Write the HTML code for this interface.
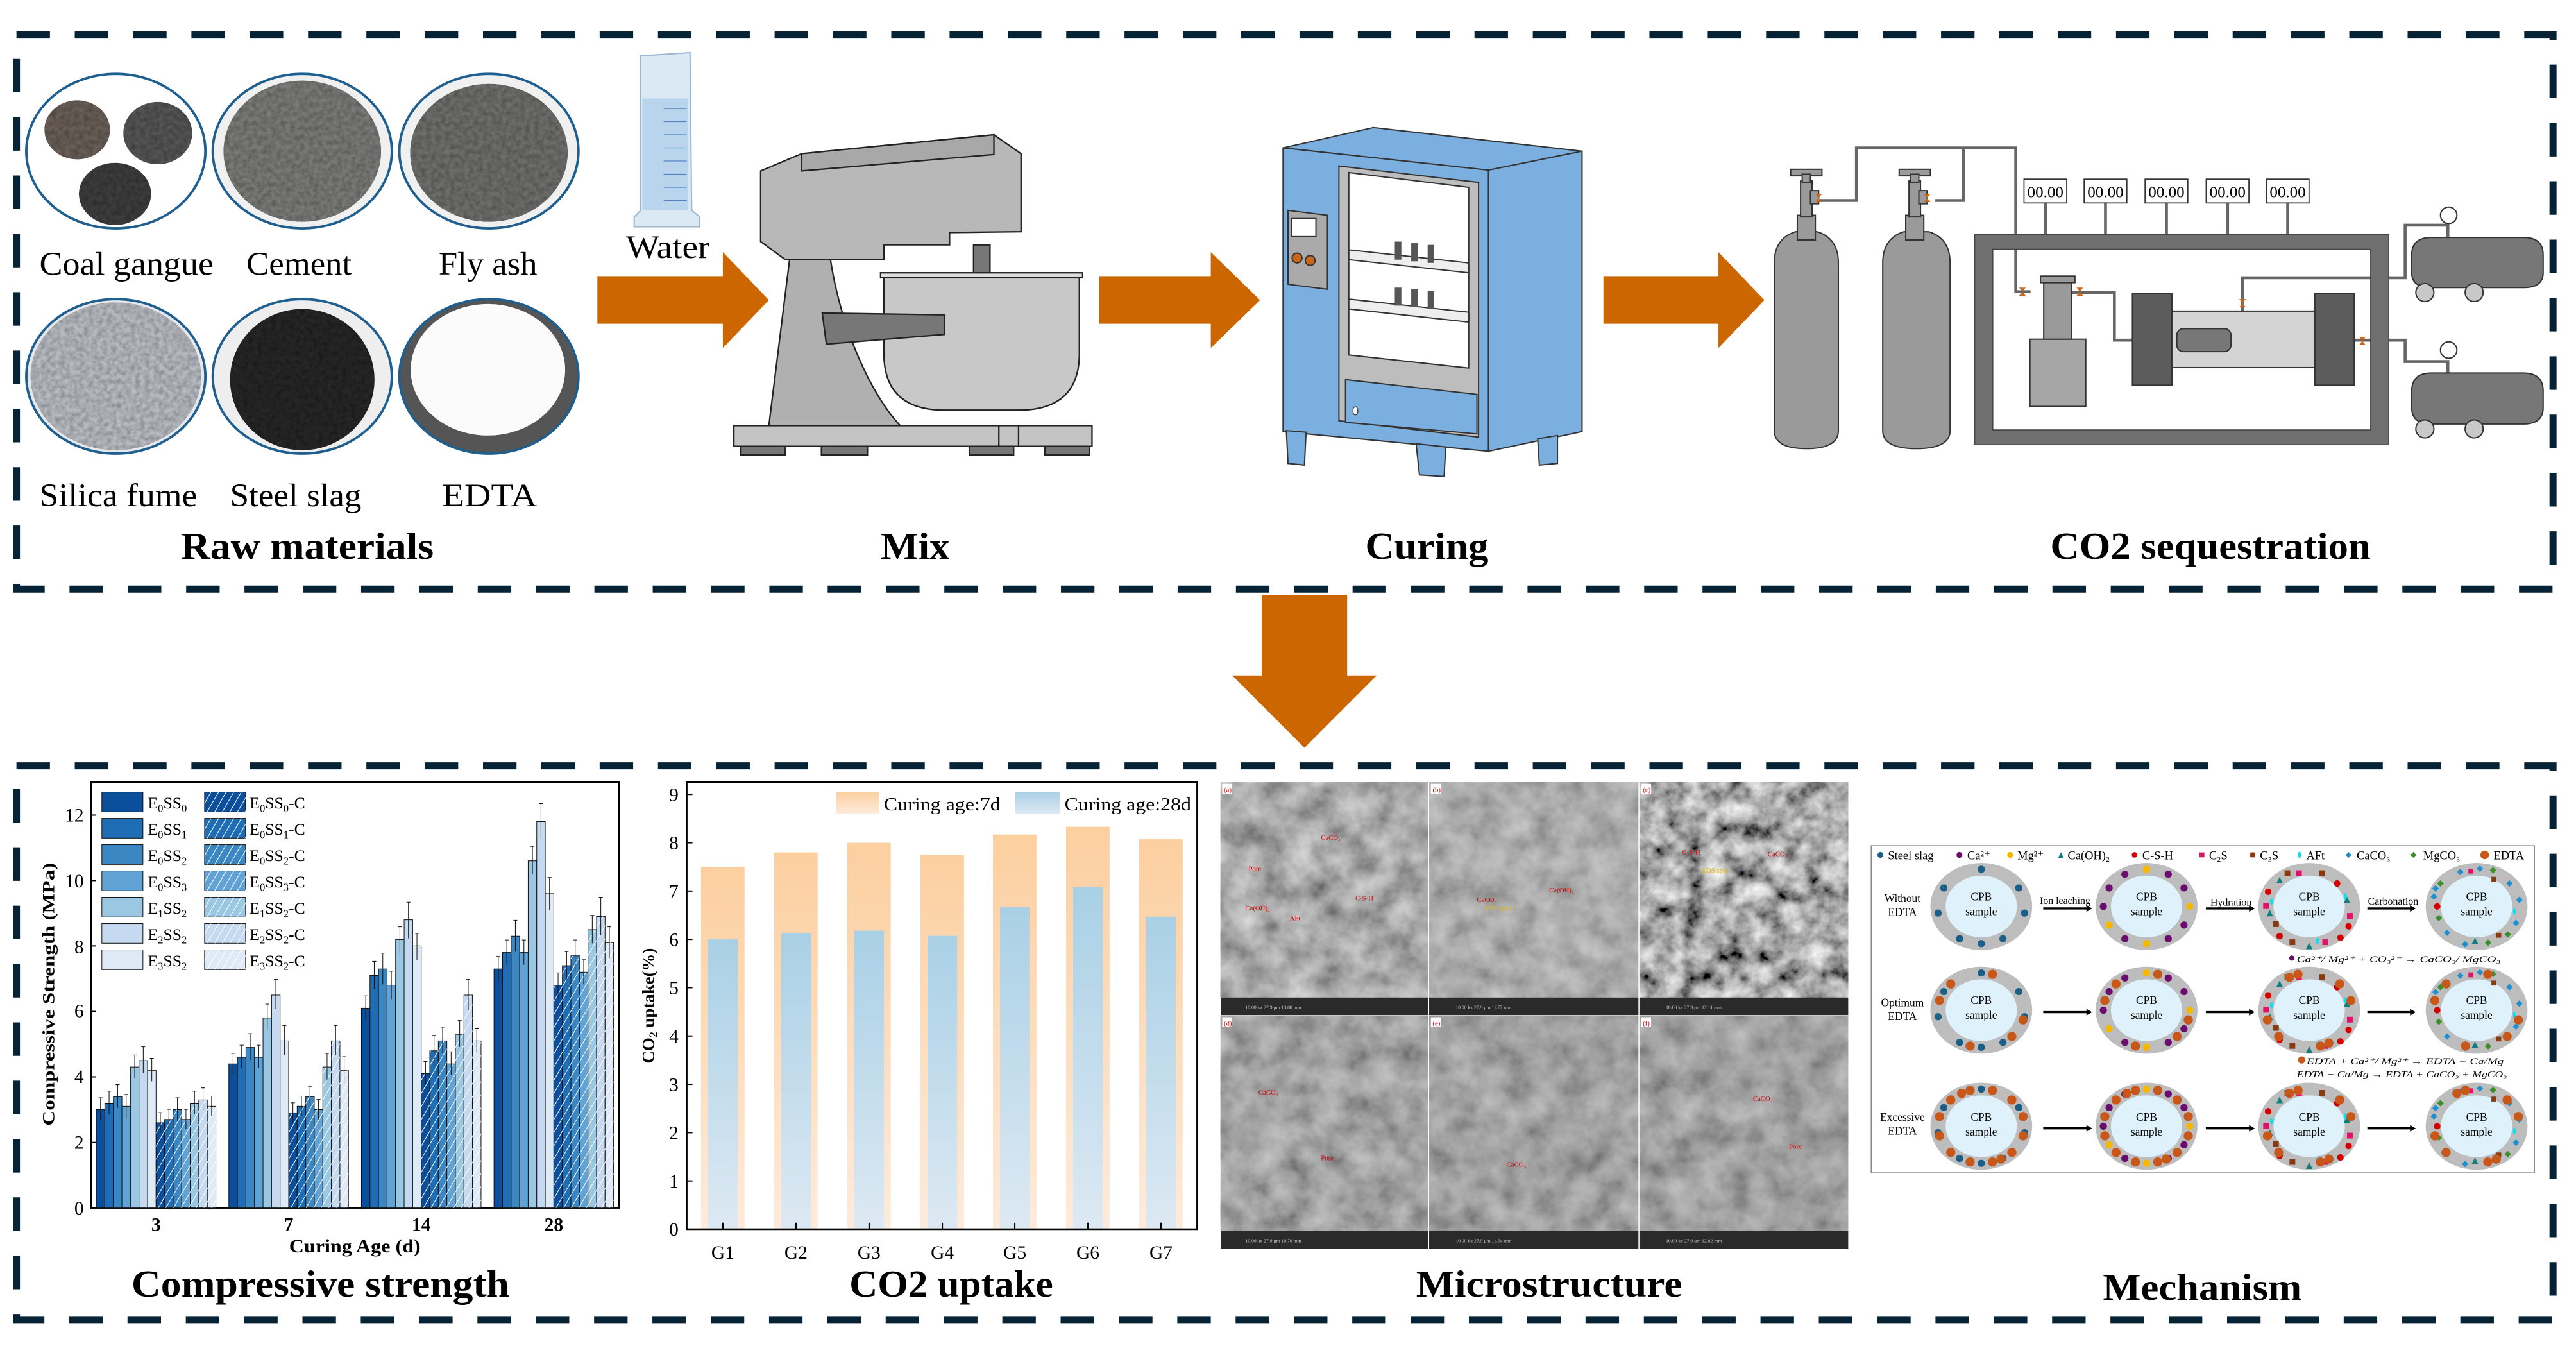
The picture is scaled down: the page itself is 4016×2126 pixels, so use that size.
<!DOCTYPE html>
<html><head><meta charset="utf-8"><style>html,body{margin:0;padding:0;background:#fff}svg{display:block}text{font-family:"Liberation Serif",serif}</style></head>
<body>
<svg width="4016" height="2126" viewBox="0 0 1568 830" preserveAspectRatio="none" xmlns="http://www.w3.org/2000/svg">
<defs>
<filter id="tex" x="0" y="0" width="1" height="1"><feTurbulence type="fractalNoise" baseFrequency="0.35" numOctaves="2" seed="5" result="n"/><feColorMatrix in="n" type="matrix" values="0.8 0 0 0 0.4 0.8 0 0 0 0.4 0.8 0 0 0 0.4 0 0 0 0 1" result="g"/><feBlend in="SourceGraphic" in2="g" mode="multiply" result="b"/><feComposite in="b" in2="SourceAlpha" operator="in"/></filter>
<filter id="sem" x="0" y="0" width="1" height="1"><feTurbulence type="fractalNoise" baseFrequency="0.06" numOctaves="4" seed="7"/><feColorMatrix type="matrix" values="1.0 0 0 0 0.0 1.0 0 0 0 0.0 1.0 0 0 0 0.0 0 0 0 0 1"/></filter>
<filter id="sem2" x="0" y="0" width="1" height="1"><feTurbulence type="fractalNoise" baseFrequency="0.08" numOctaves="4" seed="11"/><feColorMatrix type="matrix" values="1.3 0 0 0 -0.25 1.3 0 0 0 -0.25 1.3 0 0 0 -0.25 0 0 0 0 1"/></filter>
<linearGradient id="og" x1="0" y1="0" x2="0" y2="1"><stop offset="0" stop-color="#fccf9f"/><stop offset="1" stop-color="#fdebdc"/></linearGradient>
<linearGradient id="bg" x1="0" y1="0" x2="0" y2="1"><stop offset="0" stop-color="#a9d0e6"/><stop offset="1" stop-color="#dde9f3"/></linearGradient>
<pattern id="hat" width="4" height="4" patternUnits="userSpaceOnUse" patternTransform="rotate(30)"><rect width="4" height="4" fill="none"/><line x1="0" y1="0" x2="0" y2="4" stroke="#fff" stroke-width="0.8"/></pattern>
<g id="d1"><g fill="#1b5e86"><circle cx="0" cy="-22.6" r="2.2"/><circle cx="22.8" cy="-11.3" r="2.2"/><circle cx="26.3" cy="4" r="2.2"/><circle cx="13.2" cy="19.6" r="2.2"/><circle cx="0" cy="22.6" r="2.2"/><circle cx="-13.2" cy="19.6" r="2.2"/><circle cx="-26.3" cy="4" r="2.2"/><circle cx="-22.8" cy="-11.3" r="2.2"/></g></g>
<g id="d2"><circle cx="0" cy="-22.6" r="2.2" fill="#f5b800"/><circle cx="13.2" cy="-19.6" r="2.2" fill="#6a0d6f"/><circle cx="22.8" cy="-11.3" r="2.2" fill="#6a0d6f"/><circle cx="26.3" cy="0" r="2.2" fill="#f5b800"/><circle cx="22.8" cy="11.3" r="2.2" fill="#6a0d6f"/><circle cx="13.2" cy="19.6" r="2.2" fill="#6a0d6f"/><circle cx="0" cy="22.6" r="2.2" fill="#f5b800"/><circle cx="-13.2" cy="19.6" r="2.2" fill="#6a0d6f"/><circle cx="-22.8" cy="11.3" r="2.2" fill="#f5b800"/><circle cx="-26.3" cy="0" r="2.2" fill="#6a0d6f"/><circle cx="-22.8" cy="-11.3" r="2.2" fill="#6a0d6f"/><circle cx="-13.2" cy="-19.6" r="2.2" fill="#6a0d6f"/></g>
<g id="d3"><rect x="-15" y="-22" width="3.5" height="3.5" fill="#8b3a0e"/><rect x="-8" y="-22" width="3.5" height="3.5" fill="#e0116a"/><rect x="6" y="-22" width="3.5" height="3.5" fill="#8b3a0e"/><path d="M-20 -14l2 -4 2 4z" fill="#0f7f7f"/><circle cx="17" cy="-14" r="2" fill="#d40000"/><path d="M21 -2l2 -4 2 4z" fill="#0f7f7f"/><rect x="23" y="4" width="3.5" height="3.5" fill="#e0116a"/><circle cx="24" cy="12" r="2" fill="#d40000"/><ellipse cx="22" cy="-6" rx="0.9" ry="2" fill="#00e5ff"/><circle cx="19" cy="19" r="2" fill="#d40000"/><rect x="8" y="20" width="3.5" height="3.5" fill="#e0116a"/><path d="M-2 26l2 -4 2 4z" fill="#0f7f7f"/><rect x="-12" y="20" width="3.5" height="3.5" fill="#8b3a0e"/><circle cx="-18" cy="18" r="2" fill="#d40000"/><rect x="-22" y="9" width="3.5" height="3.5" fill="#8b3a0e"/><path d="M-26 6l2 -4 2 4z" fill="#0f7f7f"/><rect x="-28" y="-2" width="3.5" height="3.5" fill="#e0116a"/><circle cx="-25" cy="-9" r="2" fill="#d40000"/><ellipse cx="-23" cy="-3" rx="0.9" ry="2" fill="#00e5ff"/><ellipse cx="5" cy="21" rx="0.9" ry="2" fill="#00e5ff"/></g>
<g id="d4"><path d="M-12 -21l2 -2 2 2 -2 2z" fill="#1e90d0"/><rect x="-5" y="-23" width="3" height="3" fill="#e0116a"/><path d="M0 -23l2 -2 2 2 -2 2z" fill="#1e90d0"/><path d="M8 -22l2 -2 2 2 -2 2z" fill="#3a8f2a"/><rect x="9" y="-18" width="3" height="3" fill="#8b3a0e"/><path d="M18 -14l2 -2 2 2 -2 2z" fill="#1e90d0"/><path d="M24 -4l2 -2 2 2 -2 2z" fill="#1e90d0"/><ellipse cx="23" cy="3" rx="0.9" ry="2" fill="#00e5ff"/><path d="M22 10l2 -2 2 2 -2 2z" fill="#1e90d0"/><path d="M17 17l2 -2 2 2 -2 2z" fill="#3a8f2a"/><rect x="12" y="16" width="3" height="3" fill="#8b3a0e"/><path d="M5 22l2 -2 2 2 -2 2z" fill="#3a8f2a"/><path d="M-3 23l2 -4 2 4z" fill="#0f7f7f"/><path d="M-9 23l2 -2 2 2 -2 2z" fill="#1e90d0"/><path d="M-20 16l2 -2 2 2 -2 2z" fill="#1e90d0"/><path d="M-25 7l2 -2 2 2 -2 2z" fill="#3a8f2a"/><circle cx="-24" cy="0" r="2" fill="#d40000"/><path d="M-28 -6l2 -2 2 2 -2 2z" fill="#1e90d0"/><path d="M-24 -14l2 -2 2 2 -2 2z" fill="#3a8f2a"/><path d="M-27 -11l2 -2 2 2 -2 2z" fill="#1e90d0"/></g>
<g id="ed"><g fill="#c8581a"><circle cx="25.4" cy="5.9" r="2.8"/><circle cx="18.6" cy="16" r="2.8"/><circle cx="-6.8" cy="21.8" r="2.8"/><circle cx="-25.4" cy="-5.9" r="2.8"/><circle cx="-18.6" cy="-16" r="2.8"/><circle cx="6.8" cy="-21.8" r="2.8"/></g></g>
<g id="ed2"><g fill="#c8581a"><circle cx="25.4" cy="-5.9" r="2.8"/><circle cx="6.8" cy="21.8" r="2.8"/><circle cx="-18.6" cy="16" r="2.8"/><circle cx="-25.4" cy="5.9" r="2.8"/><circle cx="-6.8" cy="-21.8" r="2.8"/><circle cx="18.6" cy="-16" r="2.8"/><circle cx="-12" cy="-20" r="2.8"/><circle cx="12" cy="20" r="2.8"/></g></g>
</defs>

<g fill="none" stroke="#062335" stroke-width="4.3" stroke-dasharray="20.4 15.1">
<rect x="10" y="21.3" width="1544" height="337.2"/>
<rect x="10" y="466" width="1544" height="337"/>
</g>

<!-- Raw materials -->
<g stroke="#1f5f8f" stroke-width="1.5">
<ellipse cx="70.5" cy="92" rx="54.5" ry="47" fill="#fff"/>
<ellipse cx="184" cy="92" rx="54.5" ry="47" fill="#f0f0f0"/>
<ellipse cx="297.6" cy="92" rx="54.5" ry="47" fill="#f0f0f0"/>
<ellipse cx="70.5" cy="229" rx="54.5" ry="47" fill="#e6e8ec"/>
<ellipse cx="184" cy="229" rx="54.5" ry="47" fill="#eeeeee"/>
<ellipse cx="297.6" cy="229" rx="54.5" ry="47" fill="#555"/>
</g>
<g filter="url(#tex)">
<ellipse cx="47" cy="79" rx="20" ry="18" fill="#6a5f58"/>
<ellipse cx="96" cy="81" rx="21" ry="19" fill="#555"/>
<ellipse cx="70" cy="118" rx="22" ry="19" fill="#3d3d3d"/>
<ellipse cx="184" cy="92" rx="48" ry="43" fill="#7a7a78"/>
<ellipse cx="297.6" cy="93" rx="48" ry="42" fill="#6e6e6c"/>
<ellipse cx="70.5" cy="229" rx="52" ry="45" fill="#b8bcc2"/>
<ellipse cx="184" cy="231" rx="44" ry="43" fill="#262626"/>
</g>
<ellipse cx="297" cy="225" rx="47" ry="40" fill="#fbfbfb"/>
<g font-size="20" fill="#000">
<text x="24" y="167" textLength="106" lengthAdjust="spacingAndGlyphs">Coal gangue</text>
<text x="150" y="167" textLength="64" lengthAdjust="spacingAndGlyphs">Cement</text>
<text x="267" y="167" textLength="60" lengthAdjust="spacingAndGlyphs">Fly ash</text>
<text x="24" y="308" textLength="96" lengthAdjust="spacingAndGlyphs">Silica fume</text>
<text x="140" y="308" textLength="80" lengthAdjust="spacingAndGlyphs">Steel slag</text>
<text x="269" y="308" textLength="58" lengthAdjust="spacingAndGlyphs">EDTA</text>
<text x="381" y="157" textLength="51" lengthAdjust="spacingAndGlyphs">Water</text>
</g>
<g font-size="23" font-weight="bold" fill="#000">
<text x="110" y="340" textLength="154" lengthAdjust="spacingAndGlyphs">Raw materials</text>
<text x="536" y="340" textLength="42" lengthAdjust="spacingAndGlyphs">Mix</text>
<text x="831" y="340" textLength="75" lengthAdjust="spacingAndGlyphs">Curing</text>
<text x="1248" y="340" textLength="195" lengthAdjust="spacingAndGlyphs">CO2 sequestration</text>
</g>

<path d="M390 34 L420 32 L421 128 L426 132 L426 138 L386 138 L386 132 L390 128 Z" fill="#dbe9f5" stroke="#9bb7cf" stroke-width="0.8"/>
<rect x="391" y="60" width="28" height="68" fill="#b9d5ee"/>
<g stroke="#4f86c0" stroke-width="0.5"><line x1="404" y1="66" x2="418" y2="66"/><line x1="404" y1="74" x2="418" y2="74"/><line x1="404" y1="82" x2="418" y2="82"/><line x1="404" y1="90" x2="418" y2="90"/><line x1="404" y1="98" x2="418" y2="98"/><line x1="404" y1="106" x2="418" y2="106"/><line x1="404" y1="114" x2="418" y2="114"/><line x1="404" y1="122" x2="418" y2="122"/></g>

<g fill="#cc6600">
<path d="M363.6 168 H440 V153.4 L468 182.6 L440 211.8 V197 H363.6 Z"/>
<path d="M669 168 H737 V153.4 L767 182.6 L737 211.8 V197 H669 Z"/>
<path d="M976 168 H1046 V153.4 L1074 182.6 L1046 211.8 V197 H976 Z"/>
<path d="M768 362 H820 V411 H838 L794 455 L750 411 H768 Z"/>
</g>

<g stroke="#222" stroke-width="0.9">
<path d="M480.6 158 L468 259 L548 259 C530 240 512 200 505.5 158 Z" fill="#b0b0b0"/>
<path d="M463 104 L488 93.5 L605 82 L621.5 93.5 L621.5 141 L578 141.5 L578 149 L538 149 L538 158 L478 158 L463 147 Z" fill="#b8b8b8"/>
<path d="M488 93.5 L605 82 L605 94 L488 104 Z" fill="#a8a8a8"/>
<rect x="592.6" y="149" width="10" height="18" fill="#777"/>
<path d="M538 166.8 H657 V215 Q657 249.6 620 249.6 H575 Q538 249.6 538 215 Z" fill="#c8c8c8"/>
<rect x="536" y="166" width="123" height="3" fill="#ddd"/>
<path d="M500.5 190.5 L575 191.6 L575 203.5 L503 209.4 Z" fill="#777"/>
<rect x="446.7" y="259" width="218" height="12.6" fill="#c4c4c4"/>
<line x1="608" y1="259" x2="608" y2="271.6"/><line x1="620" y1="259" x2="620" y2="271.6"/>
<rect x="451" y="271.6" width="27" height="5.2" fill="#777"/><rect x="500" y="271.6" width="28" height="5.2" fill="#777"/><rect x="590" y="271.6" width="27" height="5.2" fill="#777"/><rect x="636" y="271.6" width="27" height="5.2" fill="#777"/>
</g>

<g stroke="#333" stroke-width="0.8">
<path d="M781 90 L836 77.6 L963 92 L906 103.5 Z" fill="#7aafe0"/>
<path d="M906 103.5 L963 92 L963 262.6 L906 274.6 Z" fill="#7aafe0"/>
<path d="M781 90 L906 103.5 L906 274.6 L781 262.6 Z" fill="#7aafe0"/>
<path d="M815 101 L900 111 L900 266 L815 256 Z" fill="#bdbdbd"/>
<path d="M821 105 L894 114 L894 224 L821 216 Z" fill="#fff"/>
<path d="M819 231 L899 240 L899 264 L819 257 Z" fill="#7aafe0"/>
<path d="M821 152 L894 160 L894 166 L821 158 Z" fill="#eee"/>
<path d="M821 182 L894 190 L894 196 L821 188 Z" fill="#eee"/>
<path d="M784 128 L808 131 L808 176 L784 173 Z" fill="#aaa"/>
<rect x="786" y="133" width="15" height="11" fill="#fff"/>
<circle cx="789.5" cy="157" r="3" fill="#c8661a"/><circle cx="797.5" cy="158.5" r="3" fill="#c8661a"/>
<path d="M783 262 L795 263 L794 283 L784 282 Z" fill="#7aafe0"/><path d="M862 270 L880 272 L879 290 L864 289 Z" fill="#7aafe0"/><path d="M936 267 L948 265 L948 282 L937 283 Z" fill="#7aafe0"/>
</g>
<g fill="#555"><rect x="849" y="147" width="4" height="11"/><rect x="859" y="148" width="4" height="11"/><rect x="869" y="149" width="4" height="11"/><rect x="849" y="175" width="4" height="11"/><rect x="859" y="176" width="4" height="11"/><rect x="869" y="177" width="4" height="11"/></g>
<ellipse cx="825" cy="250" rx="1.5" ry="2.5" fill="#fff" stroke="#333" stroke-width="0.5"/>

<g fill="none" stroke="#666" stroke-width="1.8">
<path d="M1108 122 H1130 V90 H1227 V177.5 H1236"/>
<path d="M1178 122 H1195 V90"/>
<path d="M1260 178 H1287 V207 H1298"/>
<path d="M1365 189 V169 H1464 V137 H1490 V145"/>
<path d="M1433 207 H1464 V220 H1490 V228"/>
<path d="M1245 123.5 V143 M1281.6 123.5 V143 M1318.7 123.5 V143 M1355.9 123.5 V143 M1392.5 123.5 V143"/>
</g>
<path d="M1202 142.7 H1454 V270.6 H1202 Z M1213 151.7 V261.6 H1443 V151.7 Z" fill="#6f6f6f" fill-rule="evenodd" stroke="#444" stroke-width="0.6"/>
<g fill="#fff" stroke="#333" stroke-width="0.7"><rect x="1232" y="109" width="26" height="14.5"/><rect x="1268.6" y="109" width="26" height="14.5"/><rect x="1305.7" y="109" width="26" height="14.5"/><rect x="1342.9" y="109" width="26" height="14.5"/><rect x="1379.5" y="109" width="26" height="14.5"/></g>
<g font-size="9.5" fill="#000"><text x="1234" y="120" textLength="22" lengthAdjust="spacingAndGlyphs">00.00</text><text x="1270.6" y="120" textLength="22" lengthAdjust="spacingAndGlyphs">00.00</text><text x="1307.7" y="120" textLength="22" lengthAdjust="spacingAndGlyphs">00.00</text><text x="1344.9" y="120" textLength="22" lengthAdjust="spacingAndGlyphs">00.00</text><text x="1381.5" y="120" textLength="22" lengthAdjust="spacingAndGlyphs">00.00</text></g>
<g stroke="#333" stroke-width="0.8" fill="#9a9a9a">
<path d="M1080 160 Q1080 145 1093 141 L1106 141 Q1119 145 1119 160 V262 Q1119 273 1099.5 273 Q1080 273 1080 262 Z"/>
<path d="M1146 160 Q1146 145 1159 141 L1174 141 Q1187 145 1187 160 V262 Q1187 273 1166.5 273 Q1146 273 1146 262 Z"/>
<rect x="1094" y="131" width="11" height="15"/><rect x="1160" y="131" width="11" height="15"/>
<rect x="1096" y="110" width="7" height="22"/><rect x="1162" y="110" width="7" height="22"/>
<rect x="1090" y="103" width="19" height="4"/><rect x="1156" y="103" width="19" height="4"/>
<rect x="1097" y="106" width="5" height="5"/><rect x="1163" y="106" width="5" height="5"/>
<rect x="1102" y="116" width="5" height="8"/><rect x="1168" y="116" width="5" height="8"/>
<rect x="1298" y="178.7" width="24" height="55.7" fill="#5c5c5c"/><rect x="1409" y="178.7" width="24" height="55.7" fill="#5c5c5c"/>
<rect x="1322" y="189.3" width="87" height="34.4" fill="#d4d4d4"/>
<rect x="1325" y="200" width="33" height="14" rx="4" fill="#777"/>
<rect x="1235.6" y="206.4" width="34" height="40.9" fill="#a6a6a6"/>
<rect x="1244" y="172" width="17" height="34.4"/>
<rect x="1242" y="168" width="21" height="4"/>
<path d="M1468 155 Q1468 144.5 1480 144.5 H1536 Q1548 144.5 1548 155 V166 Q1548 175 1536 175 H1480 Q1468 175 1468 166 Z" fill="#777"/>
<path d="M1468 238 Q1468 227 1480 227 H1536 Q1548 227 1548 238 V248 Q1548 258 1536 258 H1480 Q1468 258 1468 248 Z" fill="#777"/>
<circle cx="1476" cy="178" r="5.5" fill="#c8c8c8"/><circle cx="1506" cy="178" r="5.5" fill="#c8c8c8"/>
<circle cx="1476" cy="261" r="5.5" fill="#c8c8c8"/><circle cx="1506" cy="261" r="5.5" fill="#c8c8c8"/>
<circle cx="1490.5" cy="131" r="5" fill="#fff"/><circle cx="1490.5" cy="213" r="5" fill="#fff"/>
</g>
<g fill="#c8661a"><path d="M1105 118l4 0 -4 5 4 0z"/><path d="M1171 118l4 0 -4 5 4 0z"/><path d="M1229 175l4 0 -4 5 4 0z"/><path d="M1264 175l4 0 -4 5 4 0z"/><path d="M1363 182l4 0 -4 5 4 0z"/><path d="M1436 205l4 0 -4 5 4 0z"/></g>

<!-- Compressive strength chart -->
<rect x="55.4" y="476" width="321.4" height="259" fill="none" stroke="#000" stroke-width="1"/>
<g stroke="#000" stroke-width="0.8"><line x1="55.4" y1="695.2" x2="58.5" y2="695.2"/><line x1="55.4" y1="655.3" x2="58.5" y2="655.3"/><line x1="55.4" y1="615.5" x2="58.5" y2="615.5"/><line x1="55.4" y1="575.6" x2="58.5" y2="575.6"/><line x1="55.4" y1="535.8" x2="58.5" y2="535.8"/><line x1="55.4" y1="496" x2="58.5" y2="496"/></g>
<g font-size="11.5" text-anchor="end"><text x="51" y="739">0</text><text x="51" y="699">2</text><text x="51" y="659">4</text><text x="51" y="619">6</text><text x="51" y="580">8</text><text x="51" y="540">10</text><text x="51" y="500">12</text></g>
<text transform="translate(33,605) rotate(-90)" font-size="10.5" font-weight="bold" text-anchor="middle" textLength="160" lengthAdjust="spacingAndGlyphs">Compressive Strength (MPa)</text>
<g font-size="11.5" font-weight="bold" text-anchor="middle"><text x="95" y="749">3</text><text x="175.7" y="749">7</text><text x="256.4" y="749">14</text><text x="337.1" y="749">28</text></g>
<text x="216" y="762" font-size="11.5" font-weight="bold" text-anchor="middle" textLength="80" lengthAdjust="spacingAndGlyphs">Curing Age (d)</text>

<g stroke="#111" stroke-width="0.4">
<g transform="translate(58.6,0)">
<rect x="0" y="675.2" width="5.2" height="59.8" fill="#0b4f9c"/><rect x="5.2" y="671.3" width="5.2" height="63.7" fill="#1f6db5"/><rect x="10.4" y="667.3" width="5.2" height="67.7" fill="#3a87c4"/><rect x="15.6" y="673.2" width="5.2" height="61.8" fill="#62a3d6"/><rect x="20.8" y="649.3" width="5.2" height="85.7" fill="#9ac8e2"/><rect x="26" y="645.4" width="5.2" height="89.6" fill="#c5daf0"/><rect x="31.2" y="651.3" width="5.2" height="83.7" fill="#dfeaf7"/>
<rect x="36.4" y="683.2" width="5.2" height="51.8" fill="#0b4f9c"/><rect x="41.6" y="681.2" width="5.2" height="53.8" fill="#1f6db5"/><rect x="46.8" y="675.2" width="5.2" height="59.8" fill="#3a87c4"/><rect x="52" y="681.2" width="5.2" height="53.8" fill="#62a3d6"/><rect x="57.2" y="671.3" width="5.2" height="63.7" fill="#9ac8e2"/><rect x="62.4" y="669.3" width="5.2" height="65.7" fill="#c5daf0"/><rect x="67.6" y="673.2" width="5.2" height="61.8" fill="#dfeaf7"/>
<path fill="url(#hat)" stroke="none" d="M36.4 683.2h5.2v51.8h-5.2zM41.6 681.2h5.2v53.8h-5.2zM46.8 675.2h5.2v59.8h-5.2zM52 681.2h5.2v53.8h-5.2zM57.2 671.3h5.2v63.7h-5.2zM62.4 669.3h5.2v65.7h-5.2zM67.6 673.2h5.2v61.8h-5.2z"/>
<path fill="none" d="M2.6 668v14M1.4 668h2.4M7.8 664v14M6.6 664h2.4M13 660v14M11.8 660h2.4M18.2 666v14M17 666h2.4M23.4 642v14M22.2 642h2.4M28.6 637v16M27.4 637h2.4M33.8 644v14M32.6 644h2.4M39 677v12M37.8 677h2.4M44.2 675v12M43 675h2.4M49.4 668v14M48.2 668h2.4M54.6 675v12M53.4 675h2.4M59.8 664v14M58.6 664h2.4M65 662v14M63.8 662h2.4M70.2 667v12M69 667h2.4"/>
</g>
<g transform="translate(139.3,0)">
<rect x="0" y="647.4" width="5.2" height="87.6" fill="#0b4f9c"/><rect x="5.2" y="643.4" width="5.2" height="91.6" fill="#1f6db5"/><rect x="10.4" y="637.4" width="5.2" height="97.6" fill="#3a87c4"/><rect x="15.6" y="643.4" width="5.2" height="91.6" fill="#62a3d6"/><rect x="20.8" y="619.5" width="5.2" height="115.5" fill="#9ac8e2"/><rect x="26" y="605.5" width="5.2" height="129.5" fill="#c5daf0"/><rect x="31.2" y="633.4" width="5.2" height="101.6" fill="#dfeaf7"/>
<rect x="36.4" y="677.2" width="5.2" height="57.8" fill="#0b4f9c"/><rect x="41.6" y="673.2" width="5.2" height="61.8" fill="#1f6db5"/><rect x="46.8" y="667.3" width="5.2" height="67.7" fill="#3a87c4"/><rect x="52" y="675.2" width="5.2" height="59.8" fill="#62a3d6"/><rect x="57.2" y="649.3" width="5.2" height="85.7" fill="#9ac8e2"/><rect x="62.4" y="633.4" width="5.2" height="101.6" fill="#c5daf0"/><rect x="67.6" y="651.3" width="5.2" height="83.7" fill="#dfeaf7"/>
<path fill="url(#hat)" stroke="none" d="M36.4 677.2h5.2v57.8h-5.2zM41.6 673.2h5.2v61.8h-5.2zM46.8 667.3h5.2v67.7h-5.2zM52 675.2h5.2v59.8h-5.2zM57.2 649.3h5.2v85.7h-5.2zM62.4 633.4h5.2v101.6h-5.2zM67.6 651.3h5.2v83.7h-5.2z"/>
<path fill="none" d="M2.6 641v13M1.4 641h2.4M7.8 636v14M6.6 636h2.4M13 629v16M11.8 629h2.4M18.2 636v14M17 636h2.4M23.4 611v16M22.2 611h2.4M28.6 596v18M27.4 596h2.4M33.8 624v18M32.6 624h2.4M39 671v12M37.8 671h2.4M44.2 667v12M43 667h2.4M49.4 661v12M48.2 661h2.4M54.6 669v12M53.4 669h2.4M59.8 641v16M58.6 641h2.4M65 624v18M63.8 624h2.4M70.2 643v16M69 643h2.4"/>
</g>
<g transform="translate(220,0)">
<rect x="0" y="613.5" width="5.2" height="121.5" fill="#0b4f9c"/><rect x="5.2" y="593.6" width="5.2" height="141.4" fill="#1f6db5"/><rect x="10.4" y="589.6" width="5.2" height="145.4" fill="#3a87c4"/><rect x="15.6" y="599.5" width="5.2" height="135.5" fill="#62a3d6"/><rect x="20.8" y="571.7" width="5.2" height="163.3" fill="#9ac8e2"/><rect x="26" y="559.7" width="5.2" height="175.3" fill="#c5daf0"/><rect x="31.2" y="575.6" width="5.2" height="159.4" fill="#dfeaf7"/>
<rect x="36.4" y="653.3" width="5.2" height="81.7" fill="#0b4f9c"/><rect x="41.6" y="639.4" width="5.2" height="95.6" fill="#1f6db5"/><rect x="46.8" y="633.4" width="5.2" height="101.6" fill="#3a87c4"/><rect x="52" y="647.4" width="5.2" height="87.6" fill="#62a3d6"/><rect x="57.2" y="629.4" width="5.2" height="105.6" fill="#9ac8e2"/><rect x="62.4" y="605.5" width="5.2" height="129.5" fill="#c5daf0"/><rect x="67.6" y="633.4" width="5.2" height="101.6" fill="#dfeaf7"/>
<path fill="url(#hat)" stroke="none" d="M36.4 653.3h5.2v81.7h-5.2zM41.6 639.4h5.2v95.6h-5.2zM46.8 633.4h5.2v101.6h-5.2zM52 647.4h5.2v87.6h-5.2zM57.2 629.4h5.2v105.6h-5.2zM62.4 605.5h5.2v129.5h-5.2zM67.6 633.4h5.2v101.6h-5.2z"/>
<path fill="none" d="M2.6 606v15M1.4 606h2.4M7.8 585v17M6.6 585h2.4M13 580v19M11.8 580h2.4M18.2 591v17M17 591h2.4M23.4 564v16M22.2 564h2.4M28.6 549v22M27.4 549h2.4M33.8 568v16M32.6 568h2.4M39 646v14M37.8 646h2.4M44.2 630v18M43 630h2.4M49.4 625v16M48.2 625h2.4M54.6 640v14M53.4 640h2.4M59.8 621v16M58.6 621h2.4M65 596v19M63.8 596h2.4M70.2 626v15M69 626h2.4"/>
</g>
<g transform="translate(300.7,0)">
<rect x="0" y="589.6" width="5.2" height="145.4" fill="#0b4f9c"/><rect x="5.2" y="579.6" width="5.2" height="155.4" fill="#1f6db5"/><rect x="10.4" y="569.7" width="5.2" height="165.3" fill="#3a87c4"/><rect x="15.6" y="579.6" width="5.2" height="155.4" fill="#62a3d6"/><rect x="20.8" y="523.8" width="5.2" height="211.2" fill="#9ac8e2"/><rect x="26" y="499.9" width="5.2" height="235.1" fill="#c5daf0"/><rect x="31.2" y="543.8" width="5.2" height="191.2" fill="#dfeaf7"/>
<rect x="36.4" y="599.5" width="5.2" height="135.5" fill="#0b4f9c"/><rect x="41.6" y="587.6" width="5.2" height="147.4" fill="#1f6db5"/><rect x="46.8" y="581.6" width="5.2" height="153.4" fill="#3a87c4"/><rect x="52" y="591.6" width="5.2" height="143.4" fill="#62a3d6"/><rect x="57.2" y="565.7" width="5.2" height="169.3" fill="#9ac8e2"/><rect x="62.4" y="557.7" width="5.2" height="177.3" fill="#c5daf0"/><rect x="67.6" y="573.6" width="5.2" height="161.4" fill="#dfeaf7"/>
<path fill="url(#hat)" stroke="none" d="M36.4 599.5h5.2v135.5h-5.2zM41.6 587.6h5.2v147.4h-5.2zM46.8 581.6h5.2v153.4h-5.2zM52 591.6h5.2v143.4h-5.2zM57.2 565.7h5.2v169.3h-5.2zM62.4 557.7h5.2v177.3h-5.2zM67.6 573.6h5.2v161.4h-5.2z"/>
<path fill="none" d="M2.6 582v15M1.4 582h2.4M7.8 572v15M6.6 572h2.4M13 560v19M11.8 560h2.4M18.2 572v15M17 572h2.4M23.4 515v17M22.2 515h2.4M28.6 489v21M27.4 489h2.4M33.8 534v20M32.6 534h2.4M39 592v15M37.8 592h2.4M44.2 579v17M43 579h2.4M49.4 572v19M48.2 572h2.4M54.6 584v15M53.4 584h2.4M59.8 557v17M58.6 557h2.4M65 546v23M63.8 546h2.4M70.2 564v19M69 564h2.4"/>
</g>
<rect x="62" y="482" width="25" height="12" fill="#0b4f9c"/><rect x="62" y="498" width="25" height="12" fill="#1f6db5"/><rect x="62" y="514" width="25" height="12" fill="#3a87c4"/><rect x="62" y="530" width="25" height="12" fill="#62a3d6"/><rect x="62" y="546" width="25" height="12" fill="#9ac8e2"/><rect x="62" y="562" width="25" height="12" fill="#c5daf0"/><rect x="62" y="578" width="25" height="12" fill="#dfeaf7"/>
<rect x="124.5" y="482" width="25" height="12" fill="#0b4f9c"/><rect x="124.5" y="498" width="25" height="12" fill="#1f6db5"/><rect x="124.5" y="514" width="25" height="12" fill="#3a87c4"/><rect x="124.5" y="530" width="25" height="12" fill="#62a3d6"/><rect x="124.5" y="546" width="25" height="12" fill="#9ac8e2"/><rect x="124.5" y="562" width="25" height="12" fill="#c5daf0"/><rect x="124.5" y="578" width="25" height="12" fill="#dfeaf7"/>
<path fill="url(#hat)" stroke="none" d="M124.5 482h25v12h-25zM124.5 498h25v12h-25zM124.5 514h25v12h-25zM124.5 530h25v12h-25zM124.5 546h25v12h-25zM124.5 562h25v12h-25zM124.5 578h25v12h-25z"/>
</g>
<g font-size="10"><text x="90" y="492">E<tspan font-size="6.5" dy="2">0</tspan><tspan dy="-2">SS</tspan><tspan font-size="6.5" dy="2">0</tspan></text>
<text x="90" y="508">E<tspan font-size="6.5" dy="2">0</tspan><tspan dy="-2">SS</tspan><tspan font-size="6.5" dy="2">1</tspan></text>
<text x="90" y="524">E<tspan font-size="6.5" dy="2">0</tspan><tspan dy="-2">SS</tspan><tspan font-size="6.5" dy="2">2</tspan></text>
<text x="90" y="540">E<tspan font-size="6.5" dy="2">0</tspan><tspan dy="-2">SS</tspan><tspan font-size="6.5" dy="2">3</tspan></text>
<text x="90" y="556">E<tspan font-size="6.5" dy="2">1</tspan><tspan dy="-2">SS</tspan><tspan font-size="6.5" dy="2">2</tspan></text>
<text x="90" y="572">E<tspan font-size="6.5" dy="2">2</tspan><tspan dy="-2">SS</tspan><tspan font-size="6.5" dy="2">2</tspan></text>
<text x="90" y="588">E<tspan font-size="6.5" dy="2">3</tspan><tspan dy="-2">SS</tspan><tspan font-size="6.5" dy="2">2</tspan></text>
<text x="152" y="492">E<tspan font-size="6.5" dy="2">0</tspan><tspan dy="-2">SS</tspan><tspan font-size="6.5" dy="2">0</tspan><tspan dy="-2">-C</tspan></text>
<text x="152" y="508">E<tspan font-size="6.5" dy="2">0</tspan><tspan dy="-2">SS</tspan><tspan font-size="6.5" dy="2">1</tspan><tspan dy="-2">-C</tspan></text>
<text x="152" y="524">E<tspan font-size="6.5" dy="2">0</tspan><tspan dy="-2">SS</tspan><tspan font-size="6.5" dy="2">2</tspan><tspan dy="-2">-C</tspan></text>
<text x="152" y="540">E<tspan font-size="6.5" dy="2">0</tspan><tspan dy="-2">SS</tspan><tspan font-size="6.5" dy="2">3</tspan><tspan dy="-2">-C</tspan></text>
<text x="152" y="556">E<tspan font-size="6.5" dy="2">1</tspan><tspan dy="-2">SS</tspan><tspan font-size="6.5" dy="2">2</tspan><tspan dy="-2">-C</tspan></text>
<text x="152" y="572">E<tspan font-size="6.5" dy="2">2</tspan><tspan dy="-2">SS</tspan><tspan font-size="6.5" dy="2">2</tspan><tspan dy="-2">-C</tspan></text>
<text x="152" y="588">E<tspan font-size="6.5" dy="2">3</tspan><tspan dy="-2">SS</tspan><tspan font-size="6.5" dy="2">2</tspan><tspan dy="-2">-C</tspan></text></g>

<!-- CO2 uptake chart -->
<g>
<rect x="426.7" y="527.5" width="26.5" height="220.5" fill="url(#og)"/><rect x="471.2" y="518.7" width="26.5" height="229.3" fill="url(#og)"/><rect x="515.7" y="512.8" width="26.5" height="235.2" fill="url(#og)"/><rect x="560.3" y="520.2" width="26.5" height="227.8" fill="url(#og)"/><rect x="604.4" y="507.8" width="26.5" height="240.2" fill="url(#og)"/><rect x="648.9" y="503.1" width="26.5" height="244.9" fill="url(#og)"/><rect x="693.4" y="510.7" width="26.5" height="237.3" fill="url(#og)"/>
<rect x="431" y="571.6" width="18" height="176.4" fill="url(#bg)"/><rect x="475.5" y="567.8" width="18" height="180.2" fill="url(#bg)"/><rect x="520" y="566.3" width="18" height="181.7" fill="url(#bg)"/><rect x="564.6" y="569.5" width="18" height="178.5" fill="url(#bg)"/><rect x="608.7" y="551.9" width="18" height="196.1" fill="url(#bg)"/><rect x="653.2" y="539.9" width="18" height="208.1" fill="url(#bg)"/><rect x="697.7" y="557.8" width="18" height="190.2" fill="url(#bg)"/>
</g>
<rect x="418" y="476" width="310.7" height="272" fill="none" stroke="#000" stroke-width="1"/>
<g stroke="#000" stroke-width="0.8"><line x1="418" y1="718.6" x2="421.5" y2="718.6"/><line x1="418" y1="689.2" x2="421.5" y2="689.2"/><line x1="418" y1="659.8" x2="421.5" y2="659.8"/><line x1="418" y1="630.4" x2="421.5" y2="630.4"/><line x1="418" y1="601" x2="421.5" y2="601"/><line x1="418" y1="571.6" x2="421.5" y2="571.6"/><line x1="418" y1="542.2" x2="421.5" y2="542.2"/><line x1="418" y1="512.8" x2="421.5" y2="512.8"/><line x1="418" y1="483.4" x2="421.5" y2="483.4"/>
<line x1="440" y1="748" x2="440" y2="744"/><line x1="484.5" y1="748" x2="484.5" y2="744"/><line x1="529" y1="748" x2="529" y2="744"/><line x1="573.6" y1="748" x2="573.6" y2="744"/><line x1="617.7" y1="748" x2="617.7" y2="744"/><line x1="662.2" y1="748" x2="662.2" y2="744"/><line x1="706.7" y1="748" x2="706.7" y2="744"/></g>
<g font-size="11.5" text-anchor="end"><text x="413" y="752">0</text><text x="413" y="722.6">1</text><text x="413" y="693.2">2</text><text x="413" y="663.8">3</text><text x="413" y="634.4">4</text><text x="413" y="605">5</text><text x="413" y="575.6">6</text><text x="413" y="546.2">7</text><text x="413" y="516.8">8</text><text x="413" y="487.4">9</text></g>
<g font-size="11.5" text-anchor="middle"><text x="440" y="766">G1</text><text x="484.5" y="766">G2</text><text x="529" y="766">G3</text><text x="573.6" y="766">G4</text><text x="617.7" y="766">G5</text><text x="662.2" y="766">G6</text><text x="706.7" y="766">G7</text></g>
<text transform="translate(398,612) rotate(-90)" font-size="10.5" font-weight="bold" text-anchor="middle">CO<tspan font-size="7" dy="2">2</tspan><tspan dy="-2"> uptake(%)</tspan></text>
<rect x="509" y="482" width="26" height="13" fill="url(#og)"/><rect x="618" y="482" width="27" height="13" fill="url(#bg)"/>
<g font-size="11"><text x="538" y="493" textLength="71" lengthAdjust="spacingAndGlyphs">Curing age:7d</text><text x="648" y="493" textLength="77" lengthAdjust="spacingAndGlyphs">Curing age:28d</text></g>

<!-- Microstructure SEM -->
<g>
<rect x="743" y="476" width="126.6" height="131" filter="url(#sem)"/>
<rect x="869.6" y="476" width="128" height="131" filter="url(#sem)"/>
<rect x="997.6" y="476" width="127.4" height="131" filter="url(#sem2)"/>
<rect x="743" y="618" width="126.6" height="131" filter="url(#sem)"/>
<rect x="869.6" y="618" width="128" height="131" filter="url(#sem)"/>
<rect x="997.6" y="618" width="127.4" height="131" filter="url(#sem)"/>
</g>
<rect x="869.6" y="476" width="128" height="131" fill="#999" opacity="0.45"/>
<rect x="743" y="476" width="126.6" height="131" fill="#777" opacity="0.25"/>
<rect x="869.6" y="618" width="128" height="131" fill="#808080" opacity="0.45"/>
<rect x="743" y="618" width="126.6" height="131" fill="#808080" opacity="0.4"/>
<rect x="997.6" y="618" width="127.4" height="131" fill="#808080" opacity="0.45"/>
<g fill="#2a2a2a"><rect x="743" y="607" width="382" height="11"/><rect x="743" y="749" width="382" height="11"/></g>
<g stroke="#fff" stroke-width="0.6"><line x1="869.6" y1="476" x2="869.6" y2="760"/><line x1="997.6" y1="476" x2="997.6" y2="760"/><line x1="743" y1="618" x2="1125" y2="618"/></g>
<g fill="#ccc" font-size="3"><text x="758" y="614">10.00 kx   27.9 μm   13.80 mm</text><text x="886" y="614">10.00 kx   27.9 μm   11.77 mm</text><text x="1014" y="614">10.00 kx   27.9 μm   12.11 mm</text><text x="758" y="756">10.00 kx   27.9 μm   10.70 mm</text><text x="886" y="756">10.00 kx   27.9 μm   11.64 mm</text><text x="1014" y="756">10.00 kx   27.9 μm   12.82 mm</text></g>
<g fill="#fff"><rect x="744" y="477" width="6" height="6"/><rect x="871" y="477" width="6" height="6"/><rect x="999" y="477" width="6" height="6"/><rect x="744" y="619" width="6" height="6"/><rect x="871" y="619" width="6" height="6"/><rect x="999" y="619" width="6" height="6"/></g>
<g fill="#e00000" font-size="4.2"><text x="745" y="482">(a)</text><text x="872" y="482">(b)</text><text x="1000" y="482">(c)</text><text x="745" y="624">(d)</text><text x="872" y="624">(e)</text><text x="1000" y="624">(f)</text>
<text x="804" y="511">CaCO₃</text><text x="760" y="530">Pore</text><text x="758" y="554">Ca(OH)₂</text><text x="825" y="548">C-S-H</text><text x="785" y="560">AFt</text><text x="899" y="549">CaCO₃</text><text x="943" y="543">Ca(OH)₂</text><text x="1076" y="521">CaCO₃</text><text x="1024" y="520">C-S-H</text><text x="1067" y="670">CaCO₃</text><text x="1089" y="699">Pore</text><text x="766" y="666">CaCO₃</text><text x="804" y="706">Pore</text><text x="917" y="710">CaCO₃</text></g>
<g fill="#e8b400" font-size="4.2"><text x="904" y="554">EDS spot</text><text x="1036" y="531">EDS spot</text></g>

<!-- Mechanism -->
<rect x="1139" y="514.6" width="403.7" height="199.1" fill="#fff" stroke="#888" stroke-width="0.6"/>
<g>
<g fill="#bdbdbd"><ellipse cx="1206" cy="551.6" rx="31" ry="26.5"/><ellipse cx="1306.6" cy="551.6" rx="31" ry="26.5"/><ellipse cx="1405.6" cy="551.6" rx="31" ry="26.5"/><ellipse cx="1507.5" cy="551.6" rx="31" ry="26.5"/>
<ellipse cx="1206" cy="614.7" rx="31" ry="26.5"/><ellipse cx="1306.6" cy="614.7" rx="31" ry="26.5"/><ellipse cx="1405.6" cy="614.7" rx="31" ry="26.5"/><ellipse cx="1507.5" cy="614.7" rx="31" ry="26.5"/>
<ellipse cx="1206" cy="685.3" rx="31" ry="26.5"/><ellipse cx="1306.6" cy="685.3" rx="31" ry="26.5"/><ellipse cx="1405.6" cy="685.3" rx="31" ry="26.5"/><ellipse cx="1507.5" cy="685.3" rx="31" ry="26.5"/></g>
<g fill="#dff1fb"><ellipse cx="1206" cy="551.6" rx="21.7" ry="18.8"/><ellipse cx="1306.6" cy="551.6" rx="21.7" ry="18.8"/><ellipse cx="1405.6" cy="551.6" rx="21.7" ry="18.8"/><ellipse cx="1507.5" cy="551.6" rx="21.7" ry="18.8"/>
<ellipse cx="1206" cy="614.7" rx="21.7" ry="18.8"/><ellipse cx="1306.6" cy="614.7" rx="21.7" ry="18.8"/><ellipse cx="1405.6" cy="614.7" rx="21.7" ry="18.8"/><ellipse cx="1507.5" cy="614.7" rx="21.7" ry="18.8"/>
<ellipse cx="1206" cy="685.3" rx="21.7" ry="18.8"/><ellipse cx="1306.6" cy="685.3" rx="21.7" ry="18.8"/><ellipse cx="1405.6" cy="685.3" rx="21.7" ry="18.8"/><ellipse cx="1507.5" cy="685.3" rx="21.7" ry="18.8"/></g>
<use href="#d1" x="1206" y="551.6"/><use href="#d2" x="1306.6" y="551.6"/><use href="#d3" x="1405.6" y="551.6"/><use href="#d4" x="1507.5" y="551.6"/>
<use href="#d1" x="1206" y="614.7"/><use href="#ed" x="1206" y="614.7"/><use href="#d2" x="1306.6" y="614.7"/><use href="#ed" x="1306.6" y="614.7"/><use href="#d3" x="1405.6" y="614.7"/><use href="#ed2" x="1405.6" y="614.7"/><use href="#d4" x="1507.5" y="614.7"/><use href="#ed" x="1507.5" y="614.7"/>
<use href="#d1" x="1206" y="685.3"/><use href="#ed" x="1206" y="685.3"/><use href="#ed2" x="1206" y="685.3"/><use href="#d2" x="1306.6" y="685.3"/><use href="#ed" x="1306.6" y="685.3"/><use href="#ed2" x="1306.6" y="685.3"/><use href="#d3" x="1405.6" y="685.3"/><use href="#ed2" x="1405.6" y="685.3"/><use href="#d4" x="1507.5" y="685.3"/><use href="#ed2" x="1507.5" y="685.3"/>
</g>
<g font-size="6.8" text-anchor="middle" fill="#000">
<text x="1206" y="548">CPB</text><text x="1206" y="557">sample</text><text x="1306.6" y="548">CPB</text><text x="1306.6" y="557">sample</text><text x="1405.6" y="548">CPB</text><text x="1405.6" y="557">sample</text><text x="1507.5" y="548">CPB</text><text x="1507.5" y="557">sample</text>
<text x="1206" y="611">CPB</text><text x="1206" y="620">sample</text><text x="1306.6" y="611">CPB</text><text x="1306.6" y="620">sample</text><text x="1405.6" y="611">CPB</text><text x="1405.6" y="620">sample</text><text x="1507.5" y="611">CPB</text><text x="1507.5" y="620">sample</text>
<text x="1206" y="682">CPB</text><text x="1206" y="691">sample</text><text x="1306.6" y="682">CPB</text><text x="1306.6" y="691">sample</text><text x="1405.6" y="682">CPB</text><text x="1405.6" y="691">sample</text><text x="1507.5" y="682">CPB</text><text x="1507.5" y="691">sample</text>
<text x="1158" y="549">Without</text><text x="1158" y="557.4">EDTA</text><text x="1158" y="612.4">Optimum</text><text x="1158" y="620.8">EDTA</text><text x="1158" y="682.1">Excessive</text><text x="1158" y="690.5">EDTA</text>
<text x="1257" y="550" font-size="6.2">Ion leaching</text><text x="1358" y="551" font-size="6.2">Hydration</text><text x="1456.7" y="550.4" font-size="6.2">Carbonation</text>
</g>
<g stroke="#000" stroke-width="1.3" fill="#000">
<path d="M1243.7 552.8H1271"/><path d="M1342.7 552.8H1370"/><path d="M1441 552.8H1468"/>
<path d="M1243.7 615.9H1271"/><path d="M1342.7 615.9H1370"/><path d="M1441 615.9H1468"/>
<path d="M1243.7 686.6H1271"/><path d="M1342.7 686.6H1370"/><path d="M1441 686.6H1468"/>
</g>
<g fill="#000"><path d="M1270 550.8l3.5 2 -3.5 2z"/><path d="M1369 550.8l3.5 2 -3.5 2z"/><path d="M1467 550.8l3.5 2 -3.5 2z"/><path d="M1270 613.9l3.5 2 -3.5 2z"/><path d="M1369 613.9l3.5 2 -3.5 2z"/><path d="M1467 613.9l3.5 2 -3.5 2z"/><path d="M1270 684.6l3.5 2 -3.5 2z"/><path d="M1369 684.6l3.5 2 -3.5 2z"/><path d="M1467 684.6l3.5 2 -3.5 2z"/></g>
<circle cx="1144.6" cy="520.2" r="1.8" fill="#1b5e86"/><circle cx="1192.7" cy="520.2" r="1.8" fill="#6a0d6f"/><circle cx="1223.6" cy="520.2" r="1.8" fill="#f5b800"/><path d="M1252.8 522l1.7 -3.4 1.7 3.4z" fill="#0f7f7f"/><circle cx="1299.3" cy="520.2" r="1.7" fill="#d40000"/><rect x="1338.8" y="518.7" width="3" height="3" fill="#e0116a"/><rect x="1369.7" y="518.7" width="3" height="3" fill="#8b3a0e"/><ellipse cx="1399.7" cy="520.2" rx="0.9" ry="2" fill="#00e5ff"/><path d="M1427.8 520.2l1.8 -1.8 1.8 1.8 -1.8 1.8z" fill="#1e90d0"/><path d="M1467.2 520.2l1.8 -1.8 1.8 1.8 -1.8 1.8z" fill="#3a8f2a"/><circle cx="1512.4" cy="520.2" r="2.6" fill="#c8581a"/>
<g font-size="7.2"><text x="1149.2" y="523">Steel slag</text><text x="1197.5" y="523">Ca²⁺</text><text x="1228" y="523">Mg²⁺</text><text x="1258.6" y="523">Ca(OH)₂</text><text x="1304" y="523">C-S-H</text><text x="1344.6" y="523">C₂S</text><text x="1375.6" y="523">C₃S</text><text x="1403.8" y="523">AFt</text><text x="1434.5" y="523">CaCO₃</text><text x="1475" y="523">MgCO₃</text><text x="1517.8" y="523">EDTA</text></g>
<g font-size="5.2" font-style="italic"><circle cx="1395" cy="583" r="1.6" fill="#6a0d6f"/><text x="1398" y="585.5" textLength="124" lengthAdjust="spacingAndGlyphs">Ca²⁺/ Mg²⁺ + CO₃²⁻ → CaCO₃/ MgCO₃</text>
<circle cx="1401" cy="645" r="2.2" fill="#c8581a"/><text x="1404" y="647.5" textLength="120" lengthAdjust="spacingAndGlyphs">EDTA + Ca²⁺/ Mg²⁺ → EDTA − Ca/Mg</text>
<text x="1398" y="655.5" textLength="128" lengthAdjust="spacingAndGlyphs">EDTA − Ca/Mg → EDTA + CaCO₃ + MgCO₃</text></g>

<g font-size="23" font-weight="bold" fill="#000">
<text x="80" y="789" textLength="230" lengthAdjust="spacingAndGlyphs">Compressive strength</text>
<text x="517" y="789" textLength="124" lengthAdjust="spacingAndGlyphs">CO2 uptake</text>
<text x="862" y="789" textLength="162" lengthAdjust="spacingAndGlyphs">Microstructure</text>
<text x="1280" y="791" textLength="121" lengthAdjust="spacingAndGlyphs">Mechanism</text>
</g>
</svg>
</body></html>
